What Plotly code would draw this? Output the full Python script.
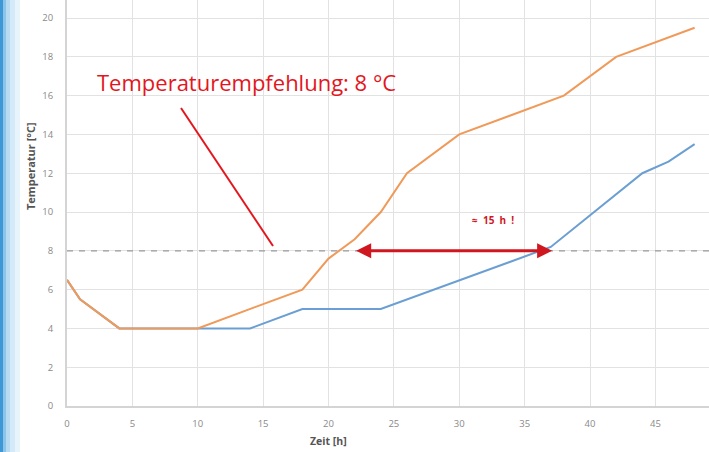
import plotly.graph_objects as go

# Data
hours_orange = [0, 1, 4, 10, 18, 20, 22, 24, 26, 30, 38, 42, 48]
temp_orange = [6.5, 5.5, 4, 4, 6, 7.6, 8.6, 10, 12, 14, 16, 18, 19.5]
hours_blue = [0, 1, 4, 10, 14, 18, 24, 37, 44, 46, 48]
temp_blue = [6.5, 5.5, 4, 4, 4, 5, 5, 8.2, 12, 12.6, 13.5]
threshold = 8
arrow_start, arrow_end = 22, 37.1
x_ticks = [0, 5, 10, 15, 20, 25, 30, 35, 40, 45]
y_ticks = [0, 2, 4, 6, 8, 10, 12, 14, 16, 18, 20]

W, H = 709, 452
L, R, T, B = 67, 0, 0, 46
pw = W - L - R
ph = H - T - B

fig = go.Figure()

fig.add_trace(go.Scatter(x=[0, 49.2], y=[threshold, threshold], mode="lines",
                         line=dict(color="#9a9a9a", width=1.3, dash="6px,6px"),
                         hoverinfo="skip", showlegend=False))
fig.add_trace(go.Scatter(x=hours_blue, y=temp_blue, mode="lines",
                         line=dict(color="#6b9fd3", width=2), showlegend=False))
fig.add_trace(go.Scatter(x=hours_orange, y=temp_orange, mode="lines",
                         line=dict(color="#f09a5a", width=2), showlegend=False))

def px2paper(px):
    return (px - L) / pw

def py2paper(py):
    return 1 - (py - T) / ph

shapes = []
# left decorative band
band = [(0, 3, "#3f97d6"), (3, 6, "#8cc4ea"), (6, 10, "#b9dbf2"),
        (10, 15, "#d4eaf8"), (15, 20, "#e8f4fb")]
for a, b, c in band:
    shapes.append(dict(type="rect", xref="paper", yref="paper",
                       x0=px2paper(a), x1=px2paper(b), y0=py2paper(H), y1=py2paper(0),
                       fillcolor=c, line=dict(width=0), layer="below"))
# red pointer line from label to threshold
shapes.append(dict(type="line", xref="paper", yref="paper",
                   x0=px2paper(181), x1=px2paper(273),
                   y0=py2paper(108), y1=py2paper(246),
                   line=dict(color="#e3161d", width=2)))

annotations = [
    dict(x=arrow_end, y=threshold, ax=arrow_start, ay=threshold,
         xref="x", yref="y", axref="x", ayref="y", text="",
         showarrow=True, arrowhead=2, startarrowhead=2, arrowside="end+start",
         arrowsize=1, startarrowsize=1, arrowwidth=3, arrowcolor="#d0161e"),
    dict(x=32.6, y=9.6, xref="x", yref="y",
         text="<b>≈&nbsp;&nbsp;15&nbsp;&nbsp;h&nbsp;&nbsp;!</b>",
         showarrow=False, font=dict(size=10, color="#d0161e", family="Open Sans")),
    dict(x=px2paper(95), y=py2paper(82), xref="paper", yref="paper",
         xanchor="left", yanchor="middle", text="Temperaturempfehlung: 8 °C",
         showarrow=False, font=dict(size=22, color="#e3161d", family="Open Sans")),
    dict(x=px2paper(30), y=py2paper(166), xref="paper", yref="paper",
         xanchor="center", yanchor="middle",
         text="<b>Temperatur [°C]</b>", textangle=-90, showarrow=False,
         font=dict(size=11, color="#555555", family="Open Sans")),
    dict(x=px2paper(328), y=py2paper(441), xref="paper", yref="paper",
         xanchor="center", yanchor="middle",
         text="<b>Zeit [h]</b>", showarrow=False,
         font=dict(size=10.5, color="#555555", family="Open Sans")),
]

fig.update_layout(
    width=W, height=H,
    margin=dict(l=L, r=R, t=T, b=B, pad=0, autoexpand=False),
    paper_bgcolor="white", plot_bgcolor="white",
    shapes=shapes, annotations=annotations,
    xaxis=dict(range=[0, 49.1], tickvals=x_ticks, showgrid=True, automargin=False,
               gridcolor="#e2e2e2", gridwidth=1.2, zeroline=False,
               showline=True, linecolor="#d4d4d4", linewidth=2,
               ticks="", tickfont=dict(size=9.5, color="#8a8a8a", family="Open Sans"),
               ticklabelstandoff=8),
    yaxis=dict(range=[0, 20.93], tickvals=y_ticks, showgrid=True, automargin=False,
               gridcolor="#e2e2e2", gridwidth=1.2, zeroline=False,
               showline=True, linecolor="#d4d4d4", linewidth=2,
               ticks="", tickfont=dict(size=9.5, color="#8a8a8a", family="Open Sans"),
               ticklabelstandoff=10),
)

fig.write_html("out.html", config={"displayModeBar": False},
               post_script="document.body.style.margin='0';document.body.style.overflow='hidden';")
